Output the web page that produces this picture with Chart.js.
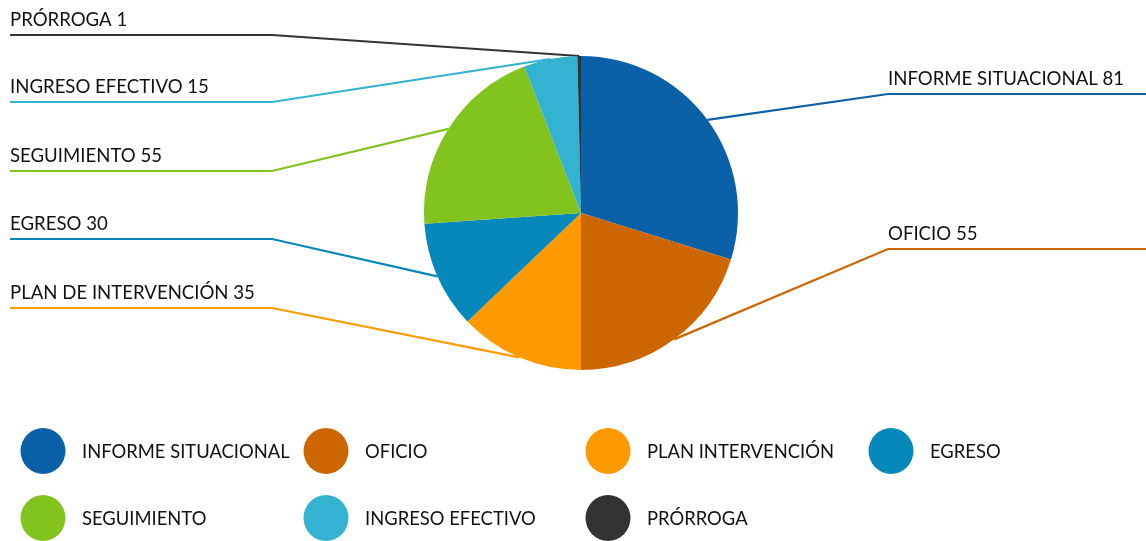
<!DOCTYPE html>
<html>
<head>
<meta charset="utf-8">
<script src="https://cdn.jsdelivr.net/npm/chart.js@4"></script>
<style>
  html, body { margin: 0; padding: 0; background: #fff; }
  #wrap { width: 1146px; height: 541px; position: relative; }
</style>
</head>
<body>
<div id="wrap"><canvas id="pie-chart"></canvas></div>
<script>
// categorias (leyenda) y valores
var categories = ["INFORME SITUACIONAL", "OFICIO", "PLAN INTERVENCIÓN", "EGRESO", "SEGUIMIENTO", "INGRESO EFECTIVO", "PRÓRROGA"];
var calloutNames = ["INFORME SITUACIONAL", "OFICIO", "PLAN DE INTERVENCIÓN", "EGRESO", "SEGUIMIENTO", "INGRESO EFECTIVO", "PRÓRROGA"];
var values = [81, 55, 35, 30, 55, 15, 1];
var colors = ["#0b61a8", "#cc6600", "#fe9900", "#0788bb", "#83c31e", "#33b2d1", "#333333"];

var FONT = "Lato, 'Open Sans', sans-serif";

// donde va cada etiqueta: lado y altura de la linea
var calloutSlots = [
  { side: "right", y: 94 },
  { side: "right", y: 249 },
  { side: "left", y: 308 },
  { side: "left", y: 239 },
  { side: "left", y: 171 },
  { side: "left", y: 102 },
  { side: "left", y: 35 },
];

var calloutPlugin = {
  id: "callouts",
  beforeDatasetsDraw: function (chart) {
    var ctx = chart.ctx;
    var meta = chart.getDatasetMeta(0);
    ctx.save();
    ctx.lineWidth = 2.2;
    ctx.font = "18.6px " + FONT;
    ctx.textBaseline = "alphabetic";
    meta.data.forEach(function (arc, i) {
      var p = arc.getProps(["x", "y", "startAngle", "endAngle", "outerRadius"], true);
      var mid = (p.startAngle + p.endAngle) / 2;
      var px = p.x + Math.cos(mid) * p.outerRadius;
      var py = p.y + Math.sin(mid) * p.outerRadius;
      var slot = calloutSlots[i];
      var text = calloutNames[i] + " " + values[i];
      ctx.strokeStyle = colors[i];
      ctx.beginPath();
      if (slot.side === "left") {
        ctx.moveTo(10, slot.y);
        ctx.lineTo(272, slot.y);
        ctx.lineTo(px, py);
      } else {
        ctx.moveTo(1146, slot.y);
        ctx.lineTo(888, slot.y);
        ctx.lineTo(px, py);
      }
      ctx.stroke();
      ctx.fillStyle = "#111";
      ctx.textAlign = "left";
      ctx.fillText(text, slot.side === "left" ? 10 : 888, slot.y - 9);
    });
    ctx.restore();
  },
};

// leyenda en rejilla (4 columnas)
var legendPlugin = {
  id: "gridLegend",
  afterDraw: function (chart) {
    var ctx = chart.ctx;
    var colX = [43, 326, 608, 891];
    var rowY = [451, 518];
    ctx.save();
    ctx.font = "20px " + FONT;
    ctx.textBaseline = "middle";
    ctx.textAlign = "left";
    chart.data.labels.forEach(function (label, i) {
      var cx = colX[i % 4];
      var cy = rowY[Math.floor(i / 4)];
      ctx.fillStyle = chart.data.datasets[0].backgroundColor[i];
      ctx.beginPath();
      ctx.ellipse(cx, cy, 22.5, 23, 0, 0, Math.PI * 2);
      ctx.fill();
      ctx.fillStyle = "#111";
      // texto algo condensado
      ctx.save();
      ctx.translate(cx + 39, cy + 1);
      ctx.scale(0.92, 1);
      ctx.fillText(label, 0, 0);
      ctx.restore();
    });
    ctx.restore();
  },
};

var pieChart = new Chart(document.getElementById("pie-chart").getContext("2d"), {
  type: "pie",
  data: {
    labels: categories,
    datasets: [
      {
        data: values,
        backgroundColor: colors,
        borderWidth: 0,
      },
    ],
  },
  options: {
    responsive: true,
    maintainAspectRatio: false,
    animation: false,
    layout: { padding: { top: 56, bottom: 171, left: 16, right: 0 } },
    plugins: {
      legend: { display: false },
      tooltip: { enabled: false },
    },
  },
  plugins: [calloutPlugin, legendPlugin],
});
</script>
</body>
</html>
